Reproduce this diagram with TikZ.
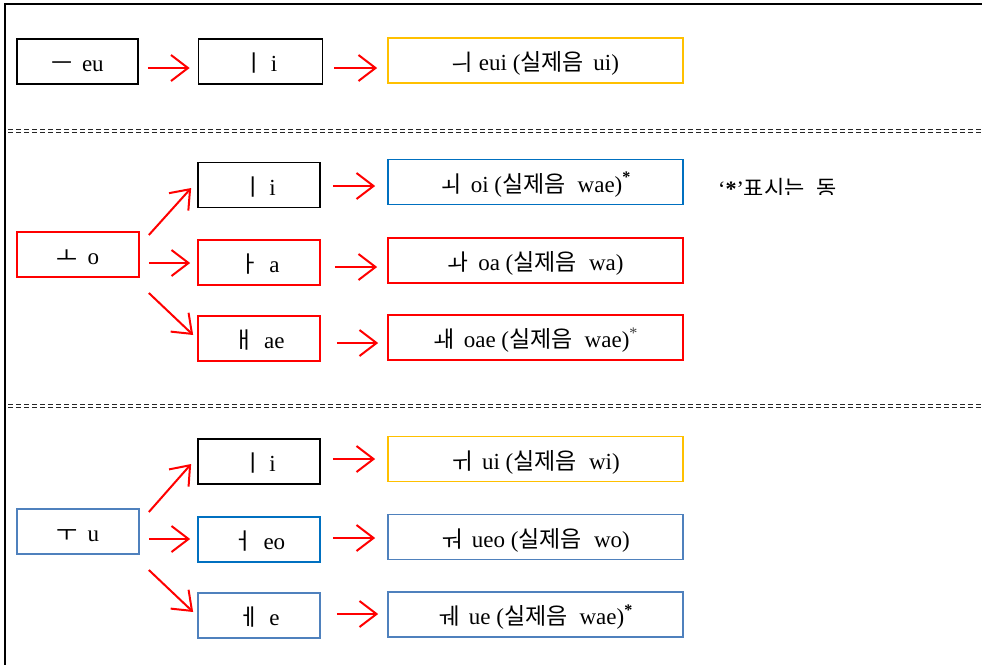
\documentclass[tikz,border=0pt]{standalone}
\usepackage{fontspec}
\setmainfont{Liberation Serif}
\newfontfamily\kr{Noto Sans CJK KR}
\usetikzlibrary{arrows.meta,calc}
\definecolor{gold}{HTML}{FFC000}
\definecolor{deepblue}{HTML}{0070C0}
\definecolor{steel}{HTML}{4F81BD}
\newcommand{\K}[1]{{\kr #1}}
\newcommand{\bstar}{\textsuperscript{\textbf{*}}}
\newcommand{\lstar}{\textsuperscript{\color{black!75}*}}
% set a box label with its baseline a little below the box centre
\newcommand{\lbl}[1]{\raisebox{-10pt}[0pt][0pt]{#1}}

\begin{document}
\begin{tikzpicture}[x=1pt,y=-1pt,
  box/.style={draw, line width=1.7pt, minimum height=45pt, inner sep=0pt,
              font=\fontsize{23}{26}\selectfont},
  small/.style={box, minimum width=122pt},
  wide/.style={box, minimum width=295pt},
  arr/.style={draw=red, line width=2pt,
              -{Straight Barb[length=17pt,width=26pt,line width=2pt]}},
  sep/.style={line width=0.9pt, dash pattern=on 5pt off 3pt, black!85}]

\useasboundingbox (0,0) rectangle (982,664);
\clip (0,0) rectangle (982,664);

% outer frame (left and top edges)
\draw[line width=2.5pt] (5,666) -- (5,4) -- (984,4);

% double dashed separators
\draw[sep] (8,129) -- (984,129);
\draw[sep] (8,132) -- (984,132);
\draw[sep] (8,404.5) -- (984,404.5);
\draw[sep] (8,407.5) -- (984,407.5);

% ---- row: eu + i ----
\node[box, minimum width=121pt] (eu) at (77.5,61.5) {\lbl{\K{ㅡ}\, eu}};
\node[box, minimum width=124pt] (ei) at (260.5,61.5) {\lbl{\K{ㅣ} i}};
\node[wide, draw=gold] (eui) at (535.5,60.5) {\lbl{\K{ㅢ} eui (\K{실제음}\, ui)}};
\draw[arr] ($(eu.east)+(9,6.5)$) -- ($(ei.west)+(-8,6.5)$);
\draw[arr] ($(ei.east)+(11,6.5)$) -- ($(eui.west)+(-10,7.5)$);

% ---- branch: o ----
\node[small, draw=red] (o) at (78,254.5) {\lbl{\K{ㅗ}\, o}};
\node[small] (oi) at (259,185) {\lbl{\K{ㅣ} i}};
\node[small, draw=red] (oa) at (259,262.5) {\lbl{\K{ㅏ}\, a}};
\node[small, draw=red] (oae) at (259,338.5) {\lbl{\K{ㅐ}\, ae}};
\node[wide, draw=deepblue] (woi) at (535.5,182) {\lbl{\K{ㅚ}\, oi (\K{실제음}\; wae)\bstar}};
\node[wide, draw=red] (woa) at (535.5,260.5) {\lbl{\K{ㅘ}\, oa (\K{실제음}\; wa)}};
\node[wide, draw=red] (woae) at (535.5,337.5) {\lbl{\K{ㅙ}\, oae (\K{실제음}\; wae)\lstar}};

\draw[arr] ($(o.east)+(9,-19.5)$) -- ($(oi.west)+(-6,3)$);
\draw[arr] ($(o.east)+(9,8.5)$) -- ($(oa.west)+(-7,0.5)$);
\draw[arr] ($(o.east)+(9,38.5)$) -- ($(oae.west)+(-4,-3.5)$);
\draw[arr] ($(oi.east)+(12,1)$) -- ($(woi.west)+(-12,4)$);
\draw[arr] ($(oa.east)+(14,4.5)$) -- ($(woa.west)+(-10,6.5)$);
\draw[arr] ($(oae.east)+(16,4.5)$) -- ($(woae.west)+(-9,5.5)$);

% footnote marker text, cut off at its lower edge
\begin{scope}
  \clip (700,165) rectangle (870,194);
  \node[anchor=base west, inner sep=0pt, font=\fontsize{22}{26}\selectfont]
    (note) at (718,196) {‘\textbf{*}’\K{표시는}\; \K{동}};
\end{scope}

% ---- branch: u ----
\node[small, draw=steel] (u) at (78,531.5) {\lbl{\K{ㅜ}\, u}};
\node[small] (ui) at (259,461.5) {\lbl{\K{ㅣ} i}};
\node[small, draw=deepblue] (eo) at (259,539.5) {\lbl{\K{ㅓ}\, eo}};
\node[small, draw=steel] (e) at (259,615.5) {\lbl{\K{ㅔ}\, e}};
\node[wide, draw=gold] (wui) at (535.5,459) {\lbl{\K{ㅟ}\, ui (\K{실제음}\; wi)}};
\node[wide, draw=steel] (wueo) at (535.5,537) {\lbl{\K{ㅝ}\, ueo (\K{실제음}\; wo)}};
\node[wide, draw=steel] (wue) at (535.5,614.5) {\lbl{\K{ㅞ}\, ue (\K{실제음}\; wae)\bstar}};

\draw[arr] ($(u.east)+(9,-19.5)$) -- ($(ui.west)+(-6,2.5)$);
\draw[arr] ($(u.east)+(9,7.5)$) -- ($(eo.west)+(-7,-0.5)$);
\draw[arr] ($(u.east)+(9,38.5)$) -- ($(e.west)+(-4,-3.5)$);
\draw[arr] ($(ui.east)+(12,-2.5)$) -- ($(wui.west)+(-12,0)$);
\draw[arr] ($(eo.east)+(12,-1.5)$) -- ($(wueo.west)+(-12,1)$);
\draw[arr] ($(e.east)+(16,-1.5)$) -- ($(wue.west)+(-9,-0.5)$);
\end{tikzpicture}
\end{document}
